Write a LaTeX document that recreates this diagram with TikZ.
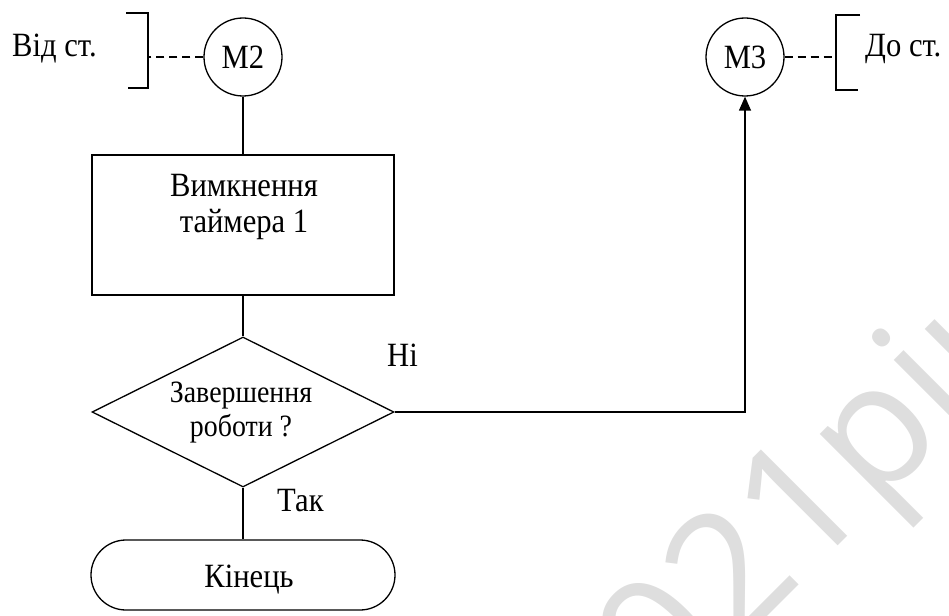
\documentclass[tikz,border=0pt]{standalone}
\usepackage{fontspec}
\setmainfont[FakeStretch=0.9]{Liberation Serif}
\newfontfamily\stampfont{Open Sans}
\usetikzlibrary{shapes.geometric,shapes.misc,arrows.meta}
\definecolor{stampgray}{HTML}{DEDEDE}
\begin{document}
\begin{tikzpicture}[x=1pt,y=-1pt,
  line/.style={line width=1.3pt},
  dashline/.style={line width=1.3pt, dash pattern=on 8pt off 5pt},
  connector/.style={draw, circle, line width=1.3pt, minimum size=78pt, inner sep=0pt,
    font=\fontsize{34}{40}\selectfont},
  txt/.style={font=\fontsize{34}{36}\selectfont, align=center, inner sep=0pt},
  smalltxt/.style={font=\fontsize{31}{34}\selectfont, align=center, inner sep=0pt},
  stamp/.style={text=stampgray, font=\stampfont\fontsize{171}{171}\selectfont, inner sep=0pt}
]
\useasboundingbox (0,0) rectangle (949,615);

% background stamp
\begin{scope}
  \clip (0,0) rectangle (949,615);
  \node[stamp, anchor=base west, rotate=45] (year) at (598,786) {2021рік};
\end{scope}

% off-page connectors
\node[connector] (m2) at (243,57) {М2};
\node[connector] (m3) at (745,57) {М3};

% brackets with comments
\coordinate (lb) at (148,57);
\draw[line] (126,13) -- (148,13) -- (148,88) -- (128,88);
\draw[dashline] (m2.west) -- (lb);
\node[txt, anchor=base west] (from) at (12,57) {Від ст.};

\coordinate (rb) at (836,57);
\draw[line] (860,15) -- (836,15) -- (836,90) -- (858,90);
\draw[dashline] (m3.east) -- (rb);
\node[txt, anchor=base west] (to) at (865,57) {До ст.};

% process block
\node[draw, line, minimum width=302pt, minimum height=140pt, inner sep=0pt] (box) at (243,225) {};
\node[txt] (boxtext) at (244,207) {Вимкнення\\таймера 1};

% decision
\node[draw, line, diamond, minimum width=302pt, minimum height=150pt, inner sep=0pt] (dia) at (243,412) {};
\node[smalltxt] (diatext) at (241,413) {Завершення\\роботи ?};

% terminator
\node[draw, line, rounded rectangle, minimum width=304pt, minimum height=70pt, inner sep=0pt] (term) at (243,575) {};
\node[txt] (termtext) at (249,580) {Кінець};

% flow lines
\draw[line] (m2) -- (box);
\draw[line] (box) -- (dia);
\draw[line] (dia) -- (term);
\draw[line, -{Triangle[length=14pt, width=12pt]}] (dia.east) -| (m3.south);

% branch labels
\node[txt, anchor=base west] (no) at (387,366) {Ні};
\node[txt, anchor=base west] (yes) at (277,511) {Так};
\end{tikzpicture}
\end{document}
